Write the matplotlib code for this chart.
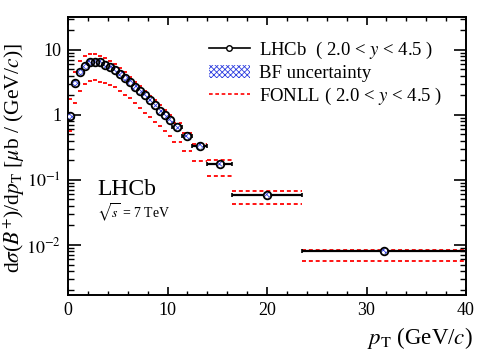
import matplotlib
matplotlib.use("Agg")
import matplotlib.pyplot as plt
import numpy as np
from matplotlib.lines import Line2D
from matplotlib.patches import Patch

plt.rcParams['font.family'] = ['Liberation Serif', 'DejaVu Serif']
plt.rcParams['mathtext.fontset'] = 'stix'
plt.rcParams['hatch.linewidth'] = 0.6

# pT bin edges (GeV/c)
bin_lo = [0.0, 0.5, 1.0, 1.5, 2.0, 2.5, 3.0, 3.5, 4.0, 4.5, 5.0, 5.5, 6.0, 6.5,
          7.0, 7.5, 8.0, 8.5, 9.0, 9.5, 10.0, 10.5, 11.5, 12.5, 14.0, 16.5, 23.5]
bin_hi = [0.5, 1.0, 1.5, 2.0, 2.5, 3.0, 3.5, 4.0, 4.5, 5.0, 5.5, 6.0, 6.5, 7.0,
          7.5, 8.0, 8.5, 9.0, 9.5, 10.0, 10.5, 11.5, 12.5, 14.0, 16.5, 23.5, 40.0]

# LHCb measurement, dsigma/dpT [ub/(GeV/c)]
lhcb = [0.95, 3.1, 4.6, 5.7, 6.4, 6.6, 6.5, 5.9, 5.5, 4.87, 4.32, 3.75, 3.25, 2.7,
        2.37, 2.03, 1.68, 1.44, 1.15, 0.98, 0.82, 0.65, 0.475, 0.337, 0.178, 0.059, 0.0081]

# FONLL band edges
fonll_up = [1.76, 4.52, 6.85, 8.08, 8.55, 8.55, 8.08, 7.53, 6.8, 6.0, 5.25, 4.5, 3.85, 3.25,
            2.75, 2.35, 1.98, 1.68, 1.42, 1.20, 1.0, 0.76, 0.53, 0.36, 0.203, 0.068, 0.0085]
fonll_lo = [0.57, 1.53, 2.37, 3.0, 3.33, 3.4, 3.25, 3.1, 2.93, 2.66, 2.31, 2.0, 1.80, 1.51,
            1.28, 1.07, 0.92, 0.79, 0.67, 0.57, 0.48, 0.38, 0.28, 0.198, 0.116, 0.042, 0.0057]

ytick_vals = [0.01, 0.1, 1, 10]
ytick_labels = [r'$10^{-2}$', r'$10^{-1}$', '1', '10']
xtick_vals = [0, 10, 20, 30, 40]

lo = np.array(bin_lo)
hi = np.array(bin_hi)
xc = 0.5 * (lo + hi)
xerr = 0.5 * (hi - lo)
y = np.array(lhcb)

fig = plt.figure(figsize=(4.91, 3.52), dpi=100)
ax = fig.add_axes([68 / 491, 57 / 352, 398 / 491, 278 / 352])

# FONLL band as dashed red steps per bin
ax.hlines(fonll_up, lo, hi, colors='red', linewidth=1.3, linestyles=(0, (2.2, 1.6)), zorder=2)
ax.hlines(fonll_lo, lo, hi, colors='red', linewidth=1.3, linestyles=(0, (2.2, 1.6)), zorder=2)

# data with bin-width bars
ax.errorbar(xc, y, xerr=xerr, yerr=0.05 * y, fmt='none', ecolor='black',
            elinewidth=1.6, capsize=1.5, capthick=1.2, zorder=3)
# BF uncertainty boxes
ax.scatter(xc, y, s=24, marker='o', facecolors='white', edgecolors='#3040e0',
           hatch='xxxxxx', linewidths=0, zorder=4)
ax.plot(xc, y, 'o', ms=5.5, mfc='none', mec='black', mew=1.3, zorder=5)

ax.set_xlim(0, 40)
ax.set_yscale('log')
ax.set_ylim(0.0017, 32)

ax.set_xticks(xtick_vals)
ax.set_xticks(np.arange(0, 41, 2), minor=True)
ax.set_yticks(ytick_vals)
ax.set_yticklabels(ytick_labels)
ax.tick_params(which='both', direction='in', top=True, right=True, labelsize=13)
ax.tick_params(axis='x', which='major', length=6, width=1.2, pad=5)
ax.tick_params(axis='x', which='minor', length=3, width=1.0)
ax.tick_params(axis='y', which='major', length=9, width=1.2, pad=5)
ax.tick_params(axis='y', which='minor', length=4.5, width=1.0)
ax.tick_params(axis='y', which='minor', labelleft=False)
for s in ax.spines.values():
    s.set_linewidth(1.4)

fig.text(14 / 491, 1 - 158 / 352,
         r'd$\sigma$($B^{+}$)/d$p_{\rm T}$ [$\mu$b / (GeV/$c$)]',
         rotation=90, ha='center', va='center', fontsize=15.5)
fig.text(473 / 491, 1 - 344 / 352, r'$p_{\rm T}$ (GeV/$c$)',
         ha='right', va='baseline', fontsize=16.5)

ax.text(0.073, 0.378, 'LHCb', transform=ax.transAxes, fontsize=17,
        ha='left', va='center')
ax.text(0.073, 0.295, r'$\sqrt{s}$ = 7 TeV', transform=ax.transAxes, fontsize=10,
        ha='left', va='center')

handles = [
    Line2D([], [], color='black', lw=1.2, marker='o', ms=4, mfc='white', mec='black'),
    Patch(facecolor='white', edgecolor='#3040e0', hatch='xxxxxx', linewidth=0),
    Line2D([], [], color='red', lw=1.2, linestyle=(0, (2.2, 1.6))),
]
labels = [r'LHCb  ( 2.0 < $y$ < 4.5 )', 'BF uncertainty', r'FONLL ( 2.0 < $y$ < 4.5 )']
ax.legend(handles, labels, loc='upper left', bbox_to_anchor=(0.335, 0.945),
          frameon=False, fontsize=13.5, handlelength=2.2, handletextpad=0.45,
          labelspacing=0.2, borderaxespad=0)

fig.savefig('out.png', dpi=100)
